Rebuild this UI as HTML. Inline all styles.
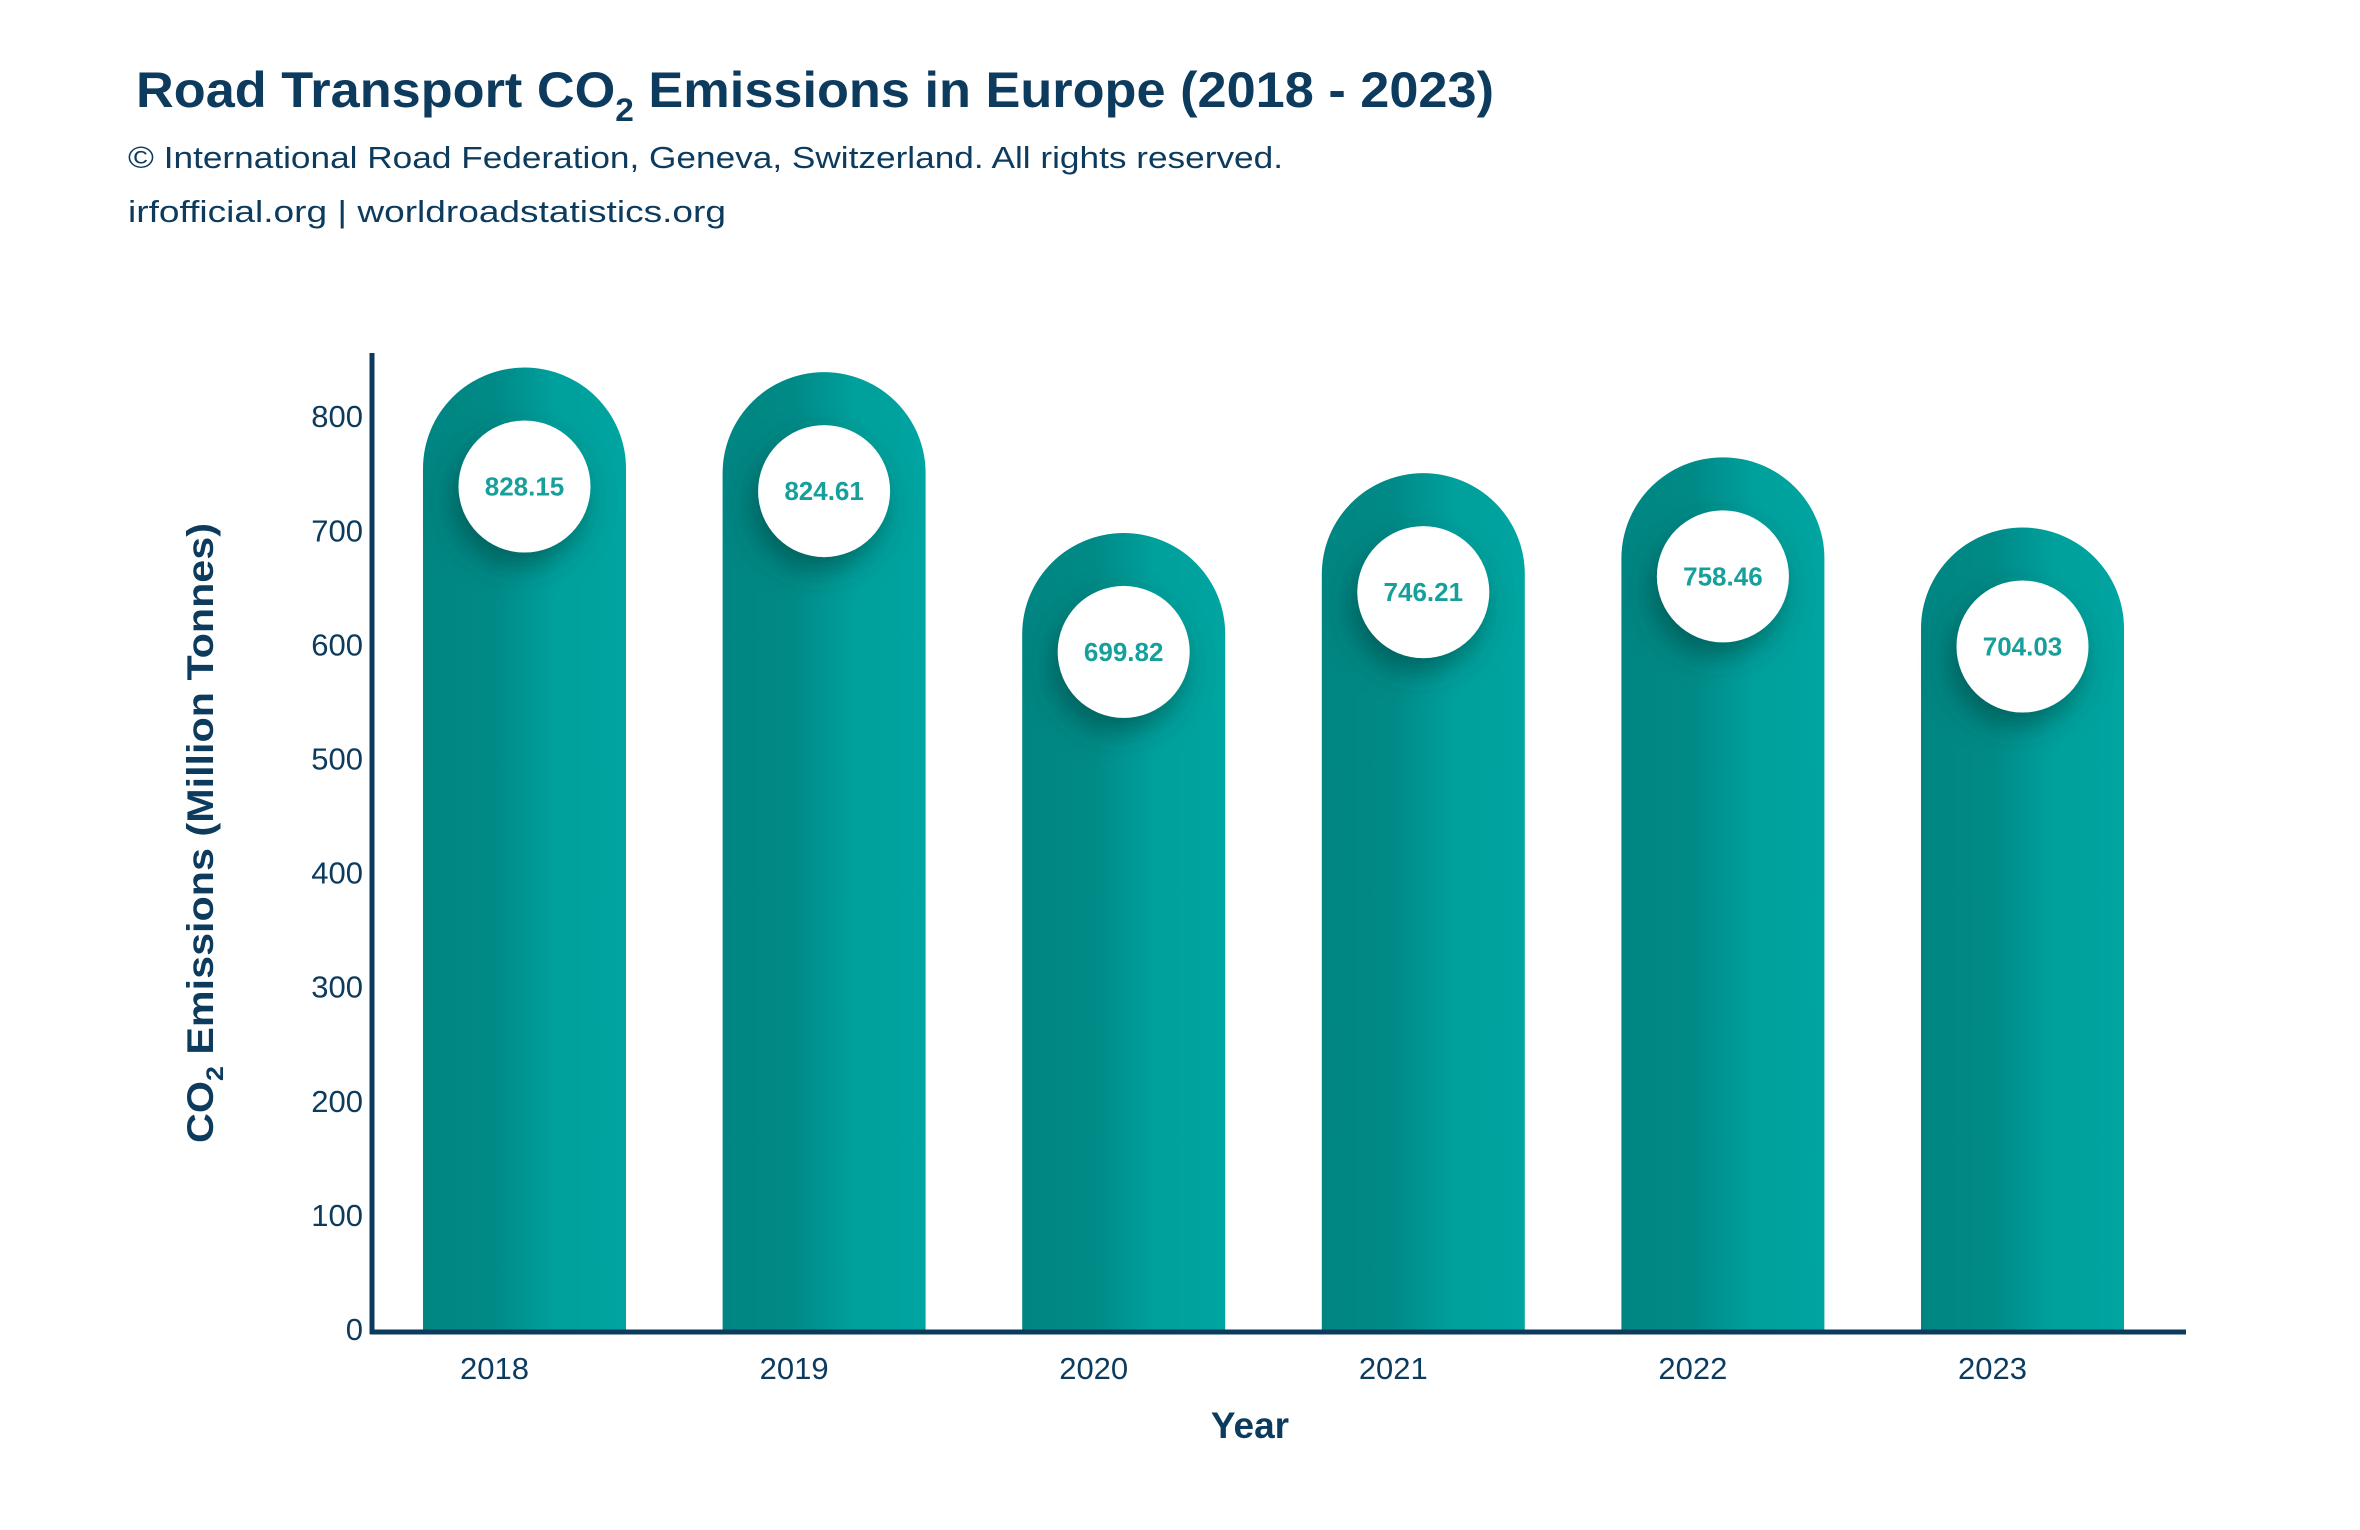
<!DOCTYPE html>
<html><head><meta charset="utf-8"><style>
html,body{margin:0;padding:0;background:#fff;}
svg{display:block;}
text{font-family:"Liberation Sans",sans-serif;}
</style></head><body>
<svg id="chart" width="2360" height="1530" viewBox="0 0 2360 1530" xmlns="http://www.w3.org/2000/svg">
<defs>
<linearGradient id="barGrad" x1="0" y1="0" x2="1" y2="0">
<stop offset="0" stop-color="#008582"/>
<stop offset="0.35" stop-color="#008a87"/>
<stop offset="0.65" stop-color="#00a09c"/>
<stop offset="1" stop-color="#00a4a0"/>
</linearGradient>
<filter id="shadow" x="-60%" y="-60%" width="220%" height="220%">
<feDropShadow dx="-6" dy="14" stdDeviation="14" flood-color="#003c3a" flood-opacity="0.55"/>
</filter>
</defs>
<text x="136" y="107" font-size="50" font-weight="bold" fill="#0d3b5e" textLength="1358" lengthAdjust="spacingAndGlyphs">Road Transport CO<tspan font-size="32" dy="14">2</tspan><tspan dy="-14"> Emissions in Europe (2018 - 2023)</tspan></text>
<text x="128" y="168" font-size="31" fill="#0d3b5e" textLength="1155" lengthAdjust="spacingAndGlyphs">© International Road Federation, Geneva, Switzerland. All rights reserved.</text>
<text x="128" y="222" font-size="31" fill="#0d3b5e" textLength="598" lengthAdjust="spacingAndGlyphs">irfofficial.org | worldroadstatistics.org</text>
<g id="yticks"></g>
<g id="bars"></g>
<line x1="372" y1="353" x2="372" y2="1334" stroke="#0d3b5e" stroke-width="5"/>
<line x1="370" y1="1332" x2="2186" y2="1332" stroke="#0d3b5e" stroke-width="5"/>
<g id="xticks"></g>
<text transform="translate(213,833) rotate(-90)" text-anchor="middle" font-size="37" font-weight="bold" fill="#0d3b5e" textLength="620" lengthAdjust="spacingAndGlyphs">CO<tspan font-size="24" dy="10">2</tspan><tspan dy="-10"> Emissions (Million Tonnes)</tspan></text>
<text x="1250" y="1438" text-anchor="middle" font-size="37" font-weight="bold" fill="#0d3b5e">Year</text>
</svg>
<script>
const categories = ["2018","2019","2020","2021","2022","2023"];
const values = [828.15, 824.61, 699.82, 746.21, 758.46, 704.03];
const yTickValues = [0,100,200,300,400,500,600,700,800];
const labels = ["828.15","824.61","699.82","746.21","758.46","704.03"];

const NS = "http://www.w3.org/2000/svg";
const y0 = 1330, perUnit = 1.141;
function yAxis(v){ return y0 - v*perUnit; }
function capTop(v){ return 1435 - 1.289*v; }
function xBand(i){ return 524.5 + i*299.6; }
const barW = 203, r = 101;

function mk(tag, attrs){ const e=document.createElementNS(NS,tag); for(const k in attrs) e.setAttribute(k,attrs[k]); return e; }

const yt = document.getElementById('yticks');
yTickValues.forEach(v=>{
  const t = mk('text',{x:363,y:yAxis(v)+10,'text-anchor':'end','font-size':31,fill:'#0d3b5e'});
  
  
  t.textContent = v; yt.appendChild(t);
});

const bg = document.getElementById('bars');
values.forEach((v,i)=>{
  const cx = xBand(i), top = capTop(v), left = cx-barW/2, right = cx+barW/2;
  const g = mk('g',{});
  
  
  const p = mk('path',{d:`M${left},${y0} L${left},${top+r} A${barW/2},${r} 0 0 1 ${right},${top+r} L${right},${y0} Z`,fill:'url(#barGrad)'});
  
  
  g.appendChild(p);
  const c = mk('circle',{cx:cx,cy:top+119,r:66,fill:'#fff',filter:'url(#shadow)'});
  
  
  g.appendChild(c);
  const t = mk('text',{x:cx,y:top+128,'text-anchor':'middle','font-size':26,'font-weight':'bold',fill:'#17a09b'});
  
  
  t.textContent = labels[i]; g.appendChild(t);
  bg.appendChild(g);
});

const xt = document.getElementById('xticks');
categories.forEach((c,i)=>{
  const t = mk('text',{x:xBand(i)-30,y:1379,'text-anchor':'middle','font-size':31,fill:'#0d3b5e'});
  
  
  t.textContent = c; xt.appendChild(t);
});
</script>
</body></html>
